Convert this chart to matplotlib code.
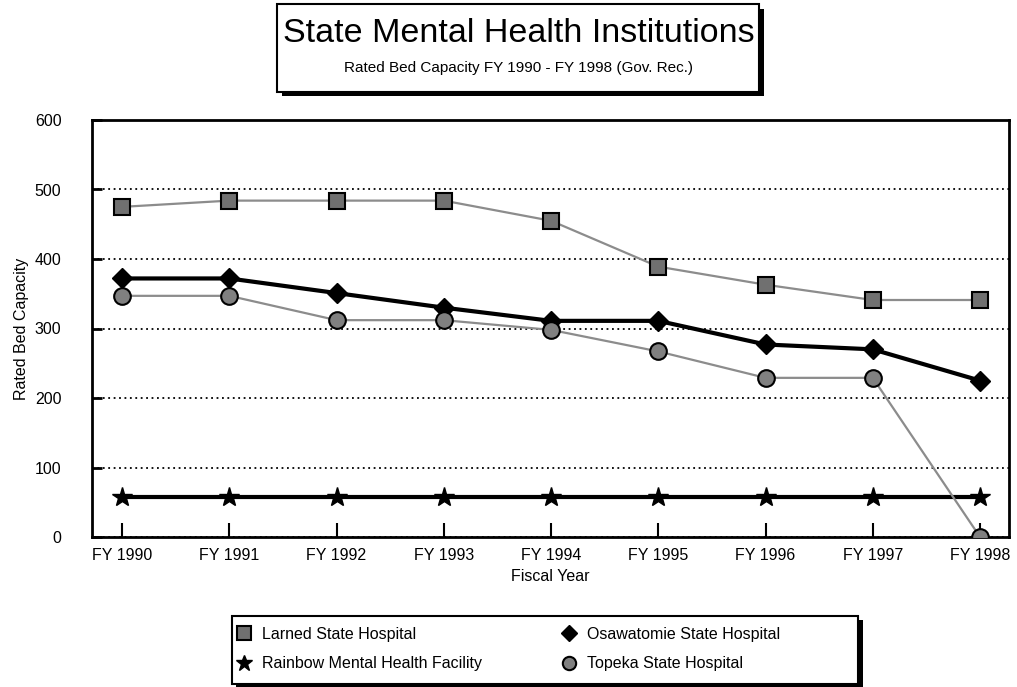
import matplotlib.pyplot as plt
from matplotlib.patches import Rectangle

plt.rcParams['font.family'] = ['Liberation Sans', 'DejaVu Sans']

years = ['FY 1990', 'FY 1991', 'FY 1992', 'FY 1993', 'FY 1994',
         'FY 1995', 'FY 1996', 'FY 1997', 'FY 1998']
larned = [475, 484, 484, 484, 455, 389, 363, 341, 341]
osawatomie = [372, 372, 351, 330, 311, 311, 277, 270, 225]
rainbow = [57, 57, 57, 57, 57, 57, 57, 57, 57]
topeka = [347, 347, 312, 312, 298, 267, 229, 229, 0]

W, H = 1017, 687
fig = plt.figure(figsize=(W / 100, H / 100), dpi=100)


def fx(px):
    return px / W


def fy(py):
    return 1 - py / H


ax = fig.add_axes([fx(92), fy(537), fx(1009) - fx(92), fy(120) - fy(537)])
x = list(range(len(years)))

grey = '#8c8c8c'
l1, = ax.plot(x, larned, color=grey, lw=1.6, marker='s', ms=12, mfc='#707070',
              mec='black', mew=1.5, label='Larned State Hospital', zorder=4)
l2, = ax.plot(x, osawatomie, color='black', lw=3, marker='D', ms=10, mfc='black',
              mec='black', label='Osawatomie State Hospital', zorder=3)
l3, = ax.plot(x, rainbow, color='black', lw=3, marker='*', ms=15, mfc='black',
              mec='black', label='Rainbow Mental Health Facility', zorder=3)
l4, = ax.plot(x, topeka, color=grey, lw=1.6, marker='o', ms=12, mfc='#808080',
              mec='black', mew=1.5, label='Topeka State Hospital', zorder=4)

ax.set_xlim(-0.28, 8.27)
ax.set_ylim(0, 600)
ax.set_yticks(range(0, 601, 100))
ax.set_xticks(x)
ax.set_xticklabels(years)
ax.tick_params(axis='x', direction='in', length=10, width=1.5, pad=8,
               labelsize=11.5)
ax.tick_params(axis='y', direction='in', length=7, width=2, pad=22,
               labelsize=11.5)
ax.yaxis.grid(True, color='black', linestyle=(0, (1, 2)), lw=1.3)
for s in ax.spines.values():
    s.set_linewidth(2)

ax.set_xlabel('Fiscal Year', fontsize=11.5, labelpad=4)
ax.set_ylabel('Rated Bed Capacity', fontsize=11.5, labelpad=4)

# title box with shadow
fig.patches.append(Rectangle((fx(282), fy(96)), fx(764) - fx(282), fy(9) - fy(96),
                             transform=fig.transFigure, facecolor='black',
                             edgecolor='none', zorder=1))
fig.patches.append(Rectangle((fx(277), fy(92)), fx(759) - fx(277), fy(4) - fy(92),
                             transform=fig.transFigure, facecolor='white',
                             edgecolor='black', lw=1.5, zorder=2))
fig.text(fx(519), fy(34), 'State Mental Health Institutions', fontsize=24.5,
         ha='center', va='center', zorder=3)
fig.text(fx(519), fy(68), 'Rated Bed Capacity FY 1990 - FY 1998 (Gov. Rec.)',
         fontsize=11, ha='center', va='center', zorder=3)

# legend box with shadow
fig.patches.append(Rectangle((fx(236), fy(688)), fx(863) - fx(236), fy(620) - fy(688),
                             transform=fig.transFigure, facecolor='black',
                             edgecolor='none', zorder=1))
fig.patches.append(Rectangle((fx(232), fy(684)), fx(858) - fx(232), fy(616) - fy(684),
                             transform=fig.transFigure, facecolor='white',
                             edgecolor='black', lw=1.5, zorder=2))
leg = fig.legend([l1, l3, l2, l4], [l.get_label() for l in (l1, l3, l2, l4)],
                 loc='center left', bbox_to_anchor=(fx(236), fy(649)),
                 bbox_transform=fig.transFigure, ncol=2,
                 fontsize=11.5, frameon=False, markerscale=0.8,
                 handlelength=1.0, handletextpad=0.6, columnspacing=5.0,
                 borderaxespad=0, borderpad=0, labelspacing=0.9)
for h in leg.legend_handles:
    h.set_linestyle('none')
leg.set_zorder(5)

fig.savefig('out.png', dpi=100)
